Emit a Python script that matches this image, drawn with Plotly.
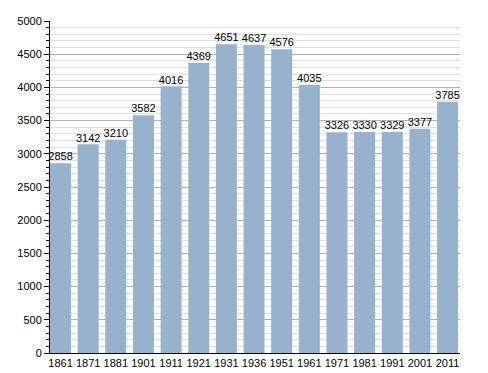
import plotly.graph_objects as go

years = ["1861", "1871", "1881", "1901", "1911", "1921", "1931", "1936", "1951", "1961", "1971", "1981", "1991", "2001", "2011"]
population = [2858, 3142, 3210, 3582, 4016, 4369, 4651, 4637, 4576, 4035, 3326, 3330, 3329, 3377, 3785]

fig = go.Figure()
fig.add_trace(go.Bar(
    x=years, y=population,
    marker=dict(color="#98b2cd", line=dict(width=0)),
    hoverinfo="x+y",
))
fig.add_trace(go.Scatter(
    x=years, y=population, mode="text",
    text=[str(v) for v in population], textposition="top center",
    textfont=dict(family="Liberation Sans, Arial", size=11, color="black"),
    cliponaxis=False, hoverinfo="skip",
))
fig.update_layout(
    width=488, height=373,
    margin=dict(l=50, r=28, t=21, b=20, autoexpand=False),
    plot_bgcolor="white", paper_bgcolor="white",
    bargap=0.24,
    showlegend=False,
    font=dict(family="Liberation Sans, Arial", size=11, color="black"),
)
fig.update_xaxes(type="category", range=[-0.38, 14.45], showline=True, linecolor="black", linewidth=1,
                 ticks="", showgrid=False, tickfont=dict(size=11), tickangle=0,
                 automargin=False)
fig.update_yaxes(range=[0, 5000], dtick=500, showline=True, linecolor="black", linewidth=1,
                 ticks="outside", ticklen=5, tickcolor="black",
                 showgrid=True, gridcolor="#b0b0b0", gridwidth=1, zeroline=False,
                 minor=dict(dtick=100, ticks="outside", ticklen=3, tickcolor="black",
                            showgrid=True, gridcolor="#e0e0e0", gridwidth=1),
                 tickfont=dict(size=11), automargin=False)
fig.write_html("out.html", config={"displayModeBar": False},
               post_script="document.body.style.margin='0';")
